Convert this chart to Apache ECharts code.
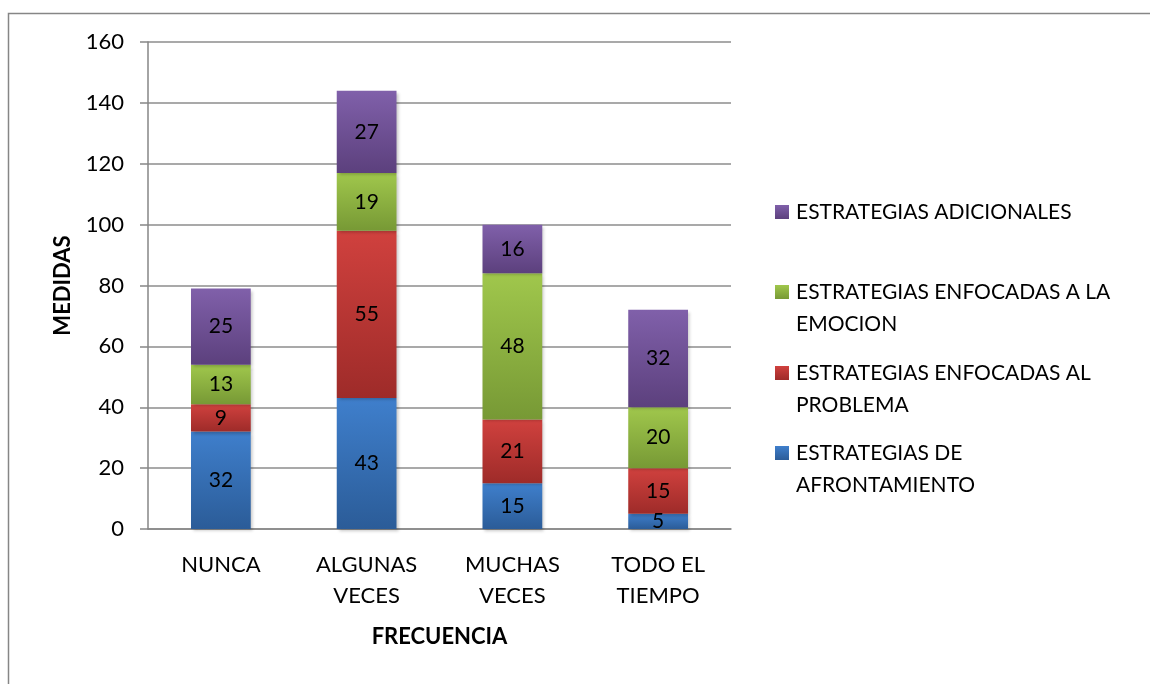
<!DOCTYPE html>
<html>
<head>
<meta charset="utf-8">
<script src="https://cdn.jsdelivr.net/npm/echarts@6/dist/echarts.min.js"></script>
<style>
html,body{margin:0;padding:0;background:#fff;}
#c{width:1150px;height:684px;}
</style>
</head>
<body>
<div id="c"></div>
<script>
const categories = ['NUNCA', 'ALGUNAS\nVECES', 'MUCHAS\nVECES', 'TODO EL\nTIEMPO'];
const afrontamiento = [32, 43, 15, 5];
const problema = [9, 55, 21, 15];
const emocion = [13, 19, 48, 20];
const adicionales = [25, 27, 16, 32];
const seriesNames = ['ESTRATEGIAS DE AFRONTAMIENTO', 'ESTRATEGIAS ENFOCADAS AL PROBLEMA', 'ESTRATEGIAS ENFOCADAS A LA EMOCION', 'ESTRATEGIAS ADICIONALES'];
const legendLines = [
  ['ESTRATEGIAS ADICIONALES', ''],
  ['ESTRATEGIAS ENFOCADAS A LA', 'EMOCION'],
  ['ESTRATEGIAS ENFOCADAS AL', 'PROBLEMA'],
  ['ESTRATEGIAS DE', 'AFRONTAMIENTO']
];
const yTicks = [0, 20, 40, 60, 80, 100, 120, 140, 160];

const FONT = 'Lato';
function grad(top, bottom) {
  return new echarts.graphic.LinearGradient(0, 0, 0, 1, [
    {offset: 0, color: top}, {offset: 1, color: bottom}
  ]);
}
const fills = [
  grad('#3f7fcc', '#2b5c98'),
  grad('#d0413e', '#9e2b29'),
  grad('#a0c74c', '#779935'),
  grad('#8060aa', '#5c407d')
];
const legendColors = ['#3b77c2', '#c43c39', '#93b944', '#7354a0'];
const dataSets = [afrontamiento, problema, emocion, adicionales];

const chart = echarts.init(document.getElementById('c'), null, {renderer: 'canvas'});

const series = dataSets.map((d, i) => ({
  name: seriesNames[i],
  type: 'bar',
  stack: 'total',
  barWidth: '41%',
  data: d,
  itemStyle: {
    color: fills[i],
    shadowBlur: 3, shadowOffsetX: 2, shadowOffsetY: 2, shadowColor: 'rgba(0,0,0,0.22)'
  },
  label: {
    show: true, position: 'inside', color: '#000',
    fontFamily: FONT, fontSize: 21
  },
  emphasis: {disabled: true}
}));

const legendTops = [200, 280, 361, 441];
const legends = legendLines.map((ln, k) => ({
  orient: 'vertical',
  left: 775,
  top: legendTops[k],
  padding: 0,
  itemWidth: 14, itemHeight: 14,
  itemGap: 0,
  icon: 'rect',
  data: [seriesNames[3 - k]],
  formatter: () => ln[0],
  selectedMode: false,
  textStyle: {fontFamily: FONT, fontSize: 21, color: '#000', padding: [0, 0, 0, 2], lineHeight: 24}
}));

const graphics = [
  {type: 'rect', shape: {x: 8.5, y: 13.5, width: 1200, height: 800}, style: {fill: 'none', stroke: '#868686', lineWidth: 1.5}, silent: true}
];
legendLines.forEach((ln, k) => {
  if (ln[1]) {
    graphics.push({type: 'text', left: 796, top: legendTops[k] + 34,
      style: {text: ln[1], fontFamily: FONT, fontSize: 21, fill: '#000'}});
  }
});

chart.setOption({
  animation: false,
  backgroundColor: '#fff',
  color: legendColors,
  grid: {left: 148, right: 419, top: 42, bottom: 155, containLabel: false},
  legend: legends,
  graphic: graphics,
  xAxis: {
    type: 'category',
    data: categories,
    name: 'FRECUENCIA',
    nameLocation: 'middle',
    nameGap: 97,
    nameTextStyle: {fontFamily: FONT, fontSize: 22, fontWeight: 'bold', color: '#000'},
    axisLine: {lineStyle: {color: '#868686', width: 1.5}},
    axisTick: {show: false},
    axisLabel: {fontFamily: FONT, fontSize: 22, color: '#000', margin: 20, lineHeight: 31, interval: 0}
  },
  yAxis: {
    type: 'value',
    min: 0, max: 160, interval: 20,
    name: 'MEDIDAS',
    nameLocation: 'middle',
    nameGap: 74,
    nameRotate: 90,
    nameTextStyle: {fontFamily: FONT, fontSize: 22, fontWeight: 'bold', color: '#000'},
    axisLine: {show: true, lineStyle: {color: '#868686', width: 1.5}},
    axisTick: {show: true, inside: false, length: 8, lineStyle: {color: '#868686', width: 1.5}},
    splitLine: {lineStyle: {color: '#8c8c8c', width: 1.5}},
    axisLabel: {fontFamily: FONT, fontSize: 22, color: '#000', margin: 24,
      formatter: v => yTicks.includes(v) ? String(v) : ''}
  },
  series: series
});
</script>
</body>
</html>
